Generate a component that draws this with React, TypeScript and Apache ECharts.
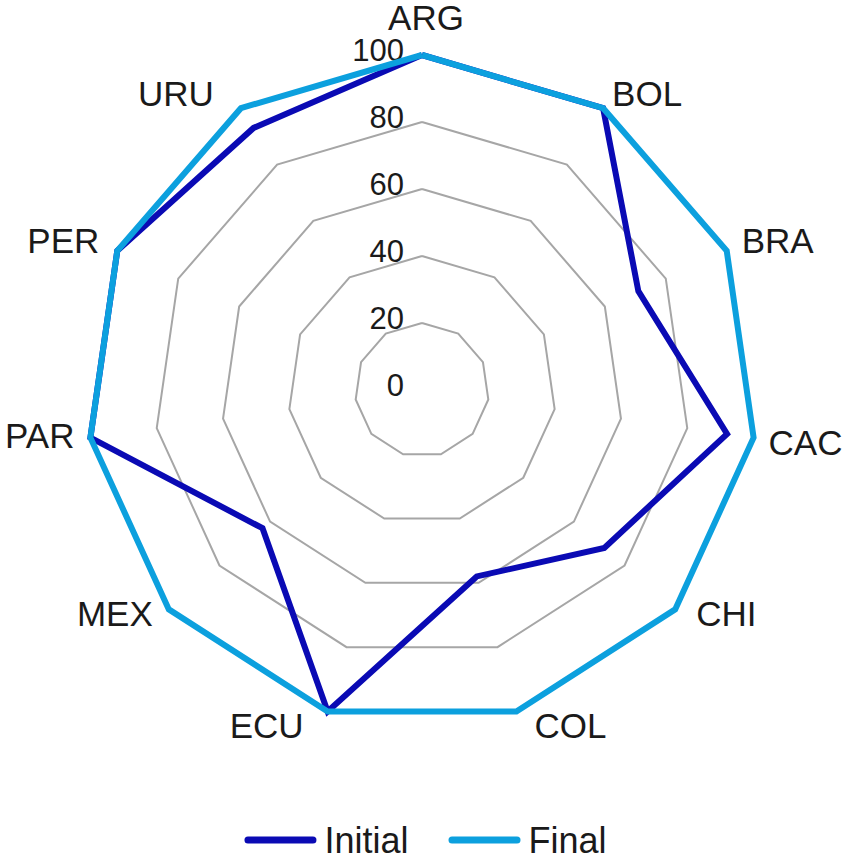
import React, { useEffect, useRef } from "react";
import * as echarts from "echarts";

// Indicators in clockwise order, starting at the top
const countries = ["ARG", "BOL", "BRA", "CAC", "CHI", "COL", "ECU", "MEX", "PAR", "PER", "URU"];
const initialValues = [100, 100, 71, 92, 72, 58, 100, 63, 100, 100, 93];
const finalValues = [100, 100, 100, 100, 100, 100, 100, 100, 100, 100, 100];
const seriesNames = ["Initial", "Final"];
const axisMax = 100;
const axisStep = 20;

const FONT = "'Liberation Sans', Arial, Helvetica, sans-serif";
const TEXT = "#1a1a1a";

// Label padding [top, right, bottom, left] to nudge each category name (style only)
const namePadding: Record<string, number[]> = {
  ARG: [0, 0, 14, 8],
  BOL: [0, 0, 29, 9],
  BRA: [0, 0, 21, 15],
  CAC: [10, 0, 0, 15],
  CHI: [8, 0, 0, 21],
  COL: [29, 0, 0, 18],
  ECU: [29, 24, 0, 0],
  MEX: [8, 16, 0, 0],
  PAR: [0, 16, 4, 0],
  PER: [0, 18, 21, 0],
  URU: [0, 27, 29, 0],
};

export default function App() {
  const ref = useRef<HTMLDivElement>(null);

  useEffect(() => {
    if (!ref.current) return;
    const chart = echarts.init(ref.current, undefined, { renderer: "svg" });

    // ECharts lays radar indicators counter-clockwise; reorder to show clockwise.
    const order = [0, ...countries.slice(1).map((_, i) => countries.length - 1 - i)];

    const indicator = order.map((idx, k) => {
      const base: any = { name: countries[idx], min: 0, max: axisMax };
      if (k === 0) {
        base.axisLabel = {
          show: true,
          color: TEXT,
          fontSize: 31,
          fontFamily: FONT,
          margin: 18,
          formatter: (v: number) => `{t|${v}}`,
          rich: {
            t: {
              fontSize: 31,
              color: TEXT,
              fontFamily: FONT,
              padding: [0, 0, 10, 0],
            },
          },
        };
      }
      return base;
    });

    const rich: Record<string, any> = {};
    countries.forEach((c) => {
      rich[c] = {
        fontSize: 35,
        color: TEXT,
        fontFamily: FONT,
        padding: namePadding[c] || [0, 0, 0, 0],
      };
    });

    const legendIcon =
      "path://M3.5,0 L68.5,0 A3.5,3.5 0 0 1 68.5,7 L3.5,7 A3.5,3.5 0 0 1 3.5,0 Z";

    chart.setOption({
      animation: false,
      backgroundColor: "#ffffff",
      legend: {
        data: seriesNames,
        top: 822,
        left: "center",
        padding: 0,
        icon: legendIcon,
        itemWidth: 72,
        itemHeight: 7,
        itemGap: 40,
        textStyle: {
          fontSize: 36,
          lineHeight: 34,
          color: TEXT,
          fontFamily: FONT,
          padding: [0, 0, 0, 3],
        },
      },
      radar: {
        center: [422, 390],
        radius: 335,
        startAngle: 90,
        splitNumber: axisMax / axisStep,
        shape: "polygon",
        indicator,
        nameGap: 0,
        axisName: {
          color: TEXT,
          fontSize: 35,
          fontFamily: FONT,
          formatter: (name: string) => `{${name}|${name}}`,
          rich,
        },
        axisLine: { show: false },
        axisTick: { show: false },
        axisLabel: { show: false },
        splitArea: { show: false },
        splitLine: { lineStyle: { color: "#a6a6a6", width: 2 } },
      },
      series: [
        {
          type: "radar",
          symbol: "none",
          data: [
            {
              name: seriesNames[0],
              value: order.map((i) => initialValues[i]),
              lineStyle: { color: "#0a0ab4", width: 6, join: "miter" },
              itemStyle: { color: "#0a0ab4" },
            },
            {
              name: seriesNames[1],
              value: order.map((i) => finalValues[i]),
              lineStyle: { color: "#0ca0de", width: 6, join: "miter" },
              itemStyle: { color: "#0ca0de" },
            },
          ],
        },
      ],
    });

    return () => chart.dispose();
  }, []);

  return (
    <div
      ref={ref}
      style={{ position: "absolute", left: 0, top: 0, width: 851, height: 859 }}
    />
  );
}
